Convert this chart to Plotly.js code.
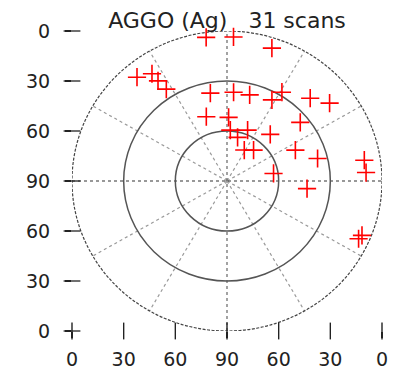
<!DOCTYPE html>
<html>
<head>
<meta charset="utf-8">
<script src="https://cdn.plot.ly/plotly-3.0.1.min.js"></script>
<style>html,body{margin:0;padding:0;background:#fff;}#chart{width:398px;height:371px;}</style>
</head>
<body>
<div id="chart"></div>
<script>
// Scan directions: azimuth (deg, clockwise from north) and elevation (deg)
const azimuth = [352.0, 320.0, 325.9, 326.3, 327.4, 349.6, 342.7, 2.5, 18.1, 4.1, 14.3, 28.2, 30.9, 44.2, 51.9, 1.4, 50.4, 3.6, 21.4, 13.2, 41.9, 28.4, 39.8, 65.0, 75.6, 81.1, 86.4, 80.5, 95.6, 112.6, 114.4];
const elevation = [3.0, 8.7, 12.3, 17.8, 24.6, 36.4, 49.6, 3.5, 6.1, 36.6, 36.7, 34.8, 27.9, 20.7, 14.3, 51.8, 34.8, 59.4, 57.2, 63.1, 52.4, 68.9, 65.9, 46.2, 35.7, 9.3, 9.1, 62.6, 43.3, 5.1, 6.1];
const tickPositions = [-90, -60, -30, 0, 30, 60, 90];
const tickLabels = ['0', '30', '60', '90', '60', '30', '0'];
const ringRadii = [30, 60, 90];
const spokeAngles = [30, 60, 120, 150, 210, 240, 300, 330];
const titleText = 'AGGO (Ag)   31 scans';

const rad = Math.PI / 180;
const xs = azimuth.map((a, i) => (90 - elevation[i]) * Math.sin(a * rad));
const ys = azimuth.map((a, i) => (90 - elevation[i]) * Math.cos(a * rad));
const axisMin = tickPositions[0];

const shapes = [];
spokeAngles.forEach(a => {
  shapes.push({type: 'line', xref: 'x', yref: 'y', layer: 'below',
    x0: 0, y0: 0, x1: 90 * Math.sin(a * rad), y1: 90 * Math.cos(a * rad),
    line: {color: '#9a9a9a', width: 1.2, dash: 'dot'}});
});
shapes.push({type: 'line', xref: 'x', yref: 'y', layer: 'below', x0: -90, y0: 0, x1: 90, y1: 0,
  line: {color: '#333', width: 1.2, dash: 'dot'}});
shapes.push({type: 'line', xref: 'x', yref: 'y', layer: 'below', x0: 0, y0: -90, x1: 0, y1: 90,
  line: {color: '#666', width: 1.2, dash: 'dot'}});
ringRadii.forEach((r, i) => {
  const outer = i === ringRadii.length - 1;
  shapes.push({type: 'circle', xref: 'x', yref: 'y', layer: 'below',
    x0: -r, y0: -r, x1: r, y1: r,
    line: {color: outer ? '#444' : '#555', width: outer ? 1.2 : 1.5, dash: outer ? '3px,1.5px' : 'solid'}});
});

const tickFont = {family: 'DejaVu Sans', size: 19, color: '#222'};
const baseAxis = {
  range: [-90, 90], autorange: false, fixedrange: true,
  tickmode: 'array', tickvals: tickPositions, ticktext: tickLabels,
  showgrid: false, zeroline: false, showline: false,
  ticks: 'outside', ticklen: 6, tickwidth: 1.3, tickcolor: '#222',
  tickfont: tickFont
};

const data = [
  // centred tick marks along the bottom and left edges
  {type: 'scatter', mode: 'markers', x: tickPositions.slice(), y: tickPositions.map(() => axisMin),
   marker: {symbol: 'line-ns', size: 12, color: '#222', line: {color: '#222', width: 1.4}},
   cliponaxis: false, hoverinfo: 'skip', showlegend: false},
  {type: 'scatter', mode: 'markers', x: tickPositions.map(() => axisMin), y: tickPositions.slice(),
   marker: {symbol: 'line-ew', size: 12, color: '#222', line: {color: '#222', width: 1.3}},
   cliponaxis: false, hoverinfo: 'skip', showlegend: false},
  {type: 'scatter', mode: 'markers', x: xs, y: ys,
   marker: {symbol: 'cross-thin-open', size: 13, color: '#ff0000', line: {color: '#ff0000', width: 1.6}},
   cliponaxis: false, hoverinfo: 'skip', showlegend: false}
];

const layout = {
  width: 398, height: 371,
  margin: {l: 72, r: 16, t: 31, b: 40, pad: 0},
  paper_bgcolor: '#fff', plot_bgcolor: 'rgba(0,0,0,0)',
  title: {text: titleText, font: {family: 'DejaVu Sans', size: 22, color: '#222'},
    x: 0.5, xref: 'paper', xanchor: 'center', y: 1 - 20 / 371, yref: 'container', yanchor: 'middle'},
  xaxis: Object.assign({}, baseAxis, {ticklabelstandoff: 5}),
  yaxis: Object.assign({}, baseAxis, {ticklabelstandoff: 11}),
  shapes: shapes,
  showlegend: false
};

Plotly.newPlot('chart', data, layout, {staticPlot: true, displayModeBar: false});
</script>
</body>
</html>
